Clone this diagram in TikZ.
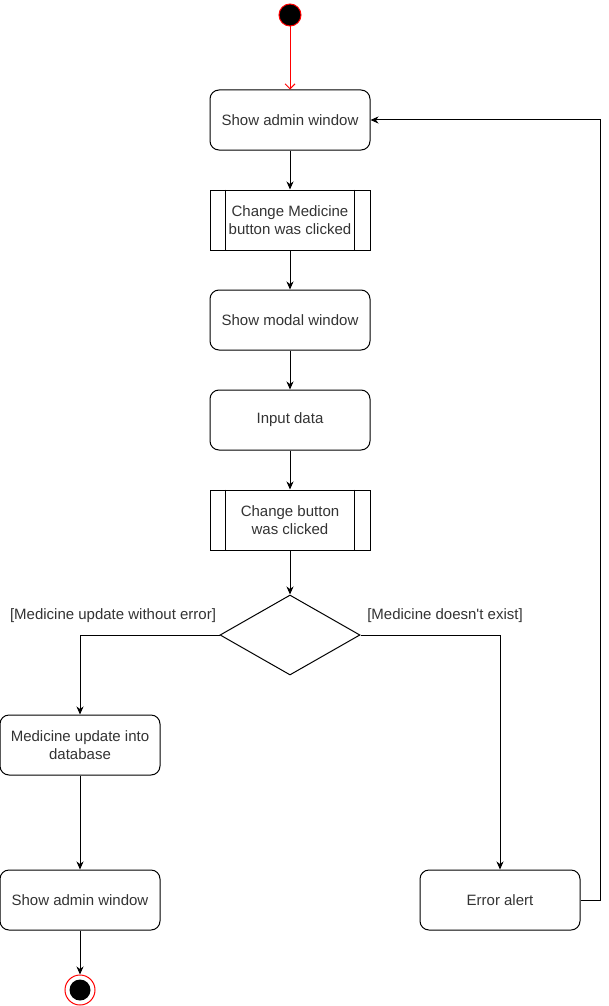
\documentclass[tikz,border=0pt]{standalone}
\usepackage{fontspec}
\setmainfont{Liberation Sans}
\newfontfamily\plainf{Liberation Sans}
\usetikzlibrary{shapes.geometric,arrows.meta}
\definecolor{txt}{HTML}{333333}
\definecolor{redl}{HTML}{FF0000}
\begin{document}
\begin{tikzpicture}[x=1pt,y=-1pt,
  lbl/.style={text=txt, font=\plainf\fontsize{15}{18}\selectfont, align=center, inner sep=0pt},
  act/.style={lbl, draw=black, line width=1pt, rounded corners=9pt, minimum width=160pt, minimum height=60pt},
  subp/.style={lbl, draw=black, line width=1pt, minimum width=160pt, minimum height=60pt},
  arr/.style={-{Stealth[length=8pt,width=7pt,inset=2.5pt]}, line width=1pt},
  flow/.style={line width=1pt}
]
\useasboundingbox (0,0) rectangle (609,1006);
% start
\node[circle, fill=black, draw=redl, line width=1pt, minimum size=22pt, inner sep=0pt] (start) at (290,15) {};
% activities
\node[act] (b1) at (290,120) {Show admin window};
\node[subp] (b2) at (290,220) {Change Medicine\\button was clicked};
\node[act] (b3) at (290,320) {Show modal window};
\node[act] (b4) at (290,420) {Input data};
\node[subp] (b5) at (290,520) {Change button\\was clicked};
\node[diamond, draw=black, line width=1pt, minimum width=140pt, minimum height=80pt, inner sep=0pt, aspect=1.75] (dec) at (290,635) {};
\node[act] (db) at (80,745) {Medicine update into\\database};
\node[act] (adm2) at (80,900) {Show admin window};
\node[act] (err) at (500,900) {Error alert};
% end
\node[circle, draw=redl, line width=1pt, minimum size=30pt, inner sep=0pt] (end) at (80,990) {};
\node[circle, fill=black, minimum size=21pt, inner sep=0pt] (endin) at (80,990) {};
% subprocess inner lines
\foreach \n in {b2,b5}{
  \draw[flow] ([xshift=16pt]\n.north west) -- ([xshift=16pt]\n.south west);
  \draw[flow] ([xshift=-16pt]\n.north east) -- ([xshift=-16pt]\n.south east);
}
% guard labels
\node[lbl] (gl) at (113,616) {[Medicine update without error]};
\node[lbl] (gr) at (445,616) {[Medicine doesn't exist]};
% connectors
\draw[line width=1pt, draw=redl, -{Straight Barb[length=5pt,width=10pt]}] (start) -- (b1);
\draw[arr] (b1) -- (b2);
\draw[arr] (b2) -- (b3);
\draw[arr] (b3) -- (b4);
\draw[arr] (b4) -- (b5);
\draw[arr] (b5) -- (dec);
\draw[arr] (dec.west) -| (db.north);
\draw[arr] (dec.east) -| (err.north);
\draw[arr] (db) -- (adm2);
\draw[arr] (adm2) -- (end);
\coordinate (loop) at (600,900);
\draw[arr] (err.east) -- (loop) |- (b1.east);
\end{tikzpicture}
\end{document}
